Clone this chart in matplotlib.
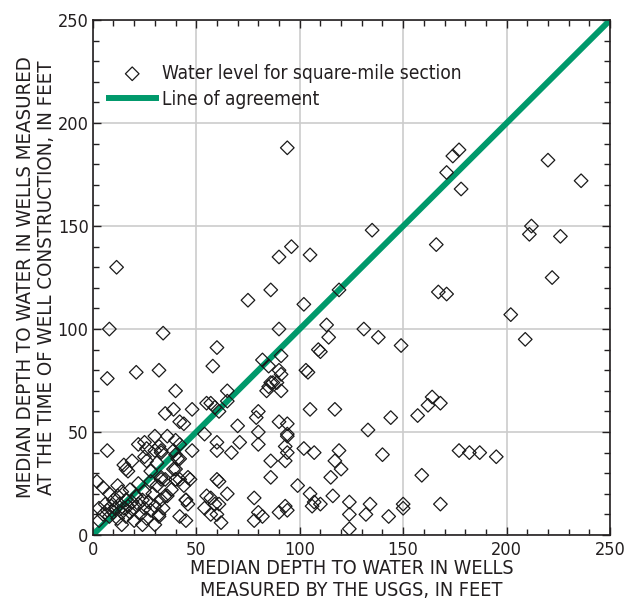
import numpy as np
import matplotlib
matplotlib.use("Agg")
import matplotlib.pyplot as plt
from matplotlib.ticker import MultipleLocator

plt.rcParams['font.family'] = ['Liberation Sans Narrow', 'DejaVu Sans']
plt.rcParams['font.stretch'] = 'condensed'

# median depth measured by USGS (x) vs at time of construction (y), feet
usgs = [
    94, 177, 174, 171, 178, 220, 236, 212, 211, 226, 222, 202, 209, 166, 167, 171,
    135, 96, 90, 105, 86, 119, 75, 102, 113, 114, 131, 138, 149, 109, 110, 90,
    103, 91, 82, 85, 11.5, 8, 34, 60, 58, 7, 21, 32,
    90, 91, 86, 87, 85, 84, 91, 89, 104, 65, 65, 40, 57, 59, 61, 55, 35, 39, 48,
    42, 44, 80, 79, 105, 117, 164, 162, 168, 157, 144, 133, 90, 94, 70, 54, 80, 94, 94,
    36, 30, 22, 26, 33, 39, 48, 7, 42, 15, 16, 17, 19, 26, 28, 40, 46, 40, 33, 2, 5,
    36, 45, 46, 71, 80, 93, 94, 102, 107, 60, 67, 86, 93, 86, 61, 65, 99, 105, 119,
    117, 120, 140, 115, 159, 116, 177, 182, 187, 195,
    107, 106, 110, 57, 59, 61, 78, 57, 60, 62, 80, 78, 82, 90, 93, 94, 124, 124, 134,
    132, 150, 150, 168, 143, 124, 42, 45, 32, 3, 3, 54,
    5, 7, 8, 9, 10, 10, 11, 12, 12, 13, 14, 14, 15, 16, 16, 17, 18, 18, 19, 20, 20,
    21, 22, 22, 23, 24, 25, 25, 26, 27, 28, 29, 30, 31, 32, 33, 34, 35, 12, 8, 6, 14,
    24, 28, 38, 30,
    25, 30, 32, 33, 25, 31, 40, 42, 40, 41, 33, 39, 40, 42, 47, 35, 44, 45, 55, 60, 60,
]
construction = [
    188, 187, 184, 176, 168, 182, 172, 150, 146, 145, 125, 107, 95, 141, 118, 117,
    148, 140, 135, 136, 119, 119, 114, 112, 102, 96, 100, 96, 92, 90, 89, 100,
    80, 87, 85, 82, 130, 100, 98, 91, 82, 76, 79, 80,
    80, 78, 74, 74, 72, 70, 70, 74, 79, 70, 65, 70, 64, 62, 60, 64, 59, 61, 61,
    55, 54, 60, 57, 61, 61, 67, 63, 64, 58, 57, 51, 55, 54, 53, 49, 50, 49, 48,
    48, 48, 44, 42, 41, 41, 41, 41, 37, 34, 32, 31, 36, 36, 31, 32, 28, 27, 28, 26, 23,
    19, 17, 15, 45, 44, 43, 40, 42, 40, 41, 40, 36, 36, 28, 26, 20, 24, 20, 41,
    36, 32, 39, 28, 29, 19, 41, 40, 40, 38,
    16, 14, 15, 18, 15, 15, 18, 10, 10, 6, 11, 7, 9, 11, 14, 12, 16, 10, 15,
    10, 15, 13, 15, 9, 3, 9, 7, 9, 13, 7, 13,
    10, 12, 9, 14, 11, 17, 13, 8, 19, 15, 11, 21, 13, 9, 17, 14, 22, 11, 16, 13, 7,
    19, 15, 25, 10, 17, 13, 21, 8, 16, 12, 20, 14, 24, 10, 17, 13, 27, 24, 20, 15, 5,
    5, 26, 22, 5,
    45, 41, 43, 40, 38, 35, 46, 44, 39, 37, 27, 32, 27, 27, 27, 19, 24, 17, 19, 45, 27,
]
agree = [0, 250]

text_c = '#231f20'
green = '#00996b'

fig = plt.figure(figsize=(6.27, 6.09), dpi=100)
ax = fig.add_axes([0.148, 0.1215, 0.825, 0.8455])

ax.plot(agree, agree, color=green, lw=4.3, solid_capstyle='butt', zorder=2,
        label='Line of agreement')
ax.scatter(usgs, construction, marker='D', s=48, facecolors='none',
           edgecolors='#1a1a1a', linewidths=0.9, zorder=3,
           label='Water level for square-mile section')

ax.set_xlim(0, 250)
ax.set_ylim(0, 250)
ax.xaxis.set_major_locator(MultipleLocator(50))
ax.yaxis.set_major_locator(MultipleLocator(50))
ax.xaxis.set_minor_locator(MultipleLocator(10))
ax.yaxis.set_minor_locator(MultipleLocator(10))
ax.grid(True, which='major', color='#cccccc', lw=1.2, zorder=0)
ax.set_axisbelow(True)
ax.tick_params(which='both', direction='in', top=True, right=True,
               colors=text_c, labelsize=13, width=1)
ax.tick_params(axis='x', pad=4)
ax.tick_params(axis='y', pad=3)
ax.tick_params(which='major', length=6)
ax.tick_params(which='minor', length=4)
for s in ax.spines.values():
    s.set_linewidth(1.2)
    s.set_color(text_c)

ax.set_xlabel('MEDIAN DEPTH TO WATER IN WELLS\nMEASURED BY THE USGS, IN FEET',
              fontsize=14.2, color=text_c, labelpad=0, linespacing=1.2)
ax.set_ylabel('MEDIAN DEPTH TO WATER IN WELLS MEASURED\nAT THE TIME OF WELL CONSTRUCTION, IN FEET',
              fontsize=14.7, color=text_c, labelpad=1, linespacing=1.15)

h, l = ax.get_legend_handles_labels()
ax.legend(h[::-1], l[::-1], loc='upper left', bbox_to_anchor=(0.01, 0.93),
          frameon=False, fontsize=13.7, handlelength=2.8, handletextpad=0.15,
          labelspacing=0.38, borderaxespad=0, labelcolor=text_c)

fig.savefig('out.png', dpi=100)
